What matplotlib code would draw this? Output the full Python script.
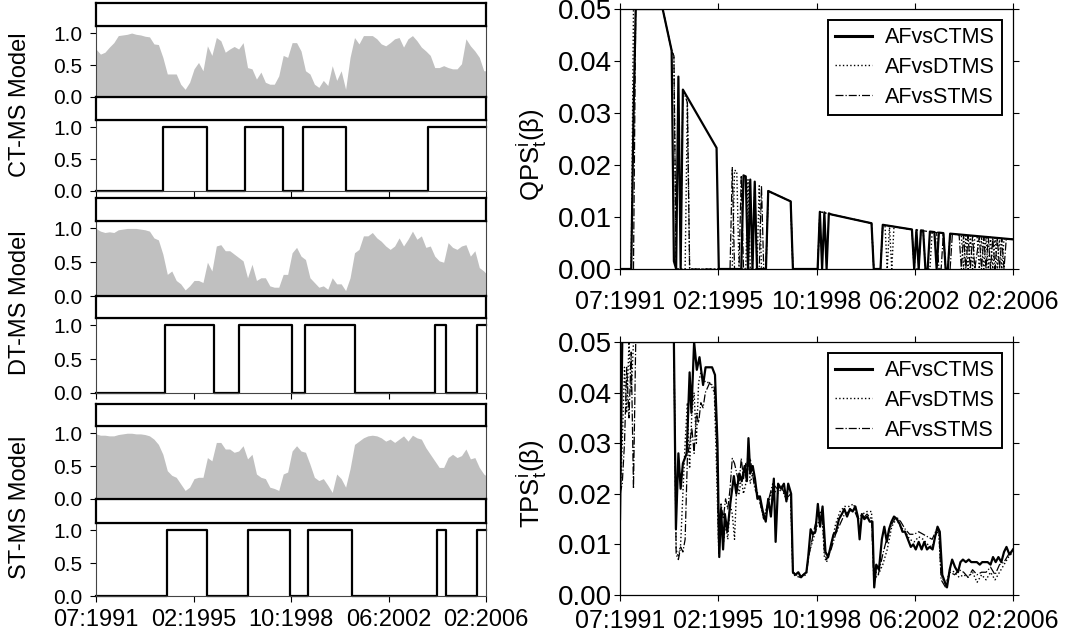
import numpy as np
import matplotlib as mpl
mpl.use('Agg')
import matplotlib.pyplot as plt
from matplotlib.lines import Line2D

######################
## data
######################

# monthly index: 0 = 07:1991 ... 175 = 02:2006
n_months = 176
xtick_pos = [0, 43.75, 87.5, 131.25, 175]
xtick_labels = ['07:1991', '02:1995', '10:1998', '06:2002', '02:2006']

# smoothed recession probabilities, sampled every second month
prob_months = np.arange(0, 177, 2)
prob_ct = [.75, .67, .70, .78, .85, .96, .97, .98, 1.0, .98,
           .97, .95, .94, .83, .82, .62, .36, .36, .36, .20,
           .12, .23, .44, .54, .41, .80, .65, .93, .88, .70,
           .75, .79, .75, .85, .46, .44, .28, .39, .23, .20,
           .20, .33, .65, .62, .85, .85, .72, .41, .36, .20,
           .15, .26, .18, .49, .26, .41, .12, .62, .93, .83,
           .96, .96, .96, .91, .83, .80, .85, .91, .93, .78,
           .91, .96, .88, .78, .72, .65, .46, .46, .49, .46,
           .44, .44, .52, .91, .80, .72, .62, .41, .41]
prob_dt = [1.0, .96, .94, .95, .94, .98, .99, 1.0, 1.0, 1.0,
           .99, .98, .96, .86, .83, .62, .32, .37, .23, .18,
           .09, .15, .23, .23, .20, .50, .37, .74, .76, .67,
           .67, .62, .57, .52, .27, .47, .23, .27, .27, .15,
           .13, .13, .32, .32, .64, .72, .59, .54, .27, .20,
           .13, .15, .10, .27, .18, .18, .08, .27, .64, .69,
           .89, .89, .94, .86, .81, .74, .69, .74, .86, .74,
           .84, .96, .84, .89, .72, .74, .59, .52, .50, .79,
           .72, .69, .74, .76, .59, .67, .42, .37, .30]
prob_st = [.99, .97, .97, .96, .96, .98, .99, 1.0, 1.0, .99,
           .99, .98, .96, .91, .83, .68, .43, .36, .33, .23,
           .13, .18, .31, .33, .33, .63, .58, .86, .86, .76,
           .76, .71, .73, .81, .61, .68, .38, .33, .31, .18,
           .16, .13, .38, .41, .73, .81, .73, .71, .53, .33,
           .28, .31, .21, .10, .38, .31, .18, .46, .83, .88,
           .93, .96, .97, .96, .93, .88, .91, .86, .91, .96,
           .88, .97, .93, .91, .78, .68, .58, .48, .48, .63,
           .68, .63, .66, .76, .61, .63, .48, .38, .33]

# regime-1 periods (start month, end month)
regime_ct = [(30, 50), (67, 84), (93, 112), (149, 176)]
regime_dt = [(31, 53), (64, 88), (94, 116), (152, 157), (171, 176)]
regime_st = [(32, 50), (68, 87), (95, 115), (153, 157), (171, 176)]

model_names = ['CT-MS Model', 'DT-MS Model', 'ST-MS Model']
series_names = ['AFvsCTMS', 'AFvsDTMS', 'AFvsSTMS']

# QPS vertices (month, value)
qps_ct_m = [0, 5, 6, 7, 19, 23, 24, 25, 26, 27, 28, 43, 44, 54, 55, 56, 57, 58, 59, 60, 61, 65, 66, 76, 77,
            88, 89, 90, 91, 92, 93, 94, 112, 113, 116, 117, 130, 131, 132, 133, 134, 135, 136, 137, 138,
            140, 141, 142, 144, 145, 146, 147, 175]
qps_ct_v = [0, 0, .029, .05, .05, .042, .0015, 0, .037, 0, .0345, .0233, 0, 0, .018, .0178, 0, .0172, 0, .0168, 0, 0, .015, .013, 0,
            0, .011, 0, .0109, 0, .0107, .0105, .0088, 0, 0, .0085, .0076, 0, .0075, 0, .0074, .0074, 0, 0, .0072,
            .0071, 0, .007, .0069, 0, 0, .0068, .0057]
qps_dt_m = [0, 5, 6, 19, 23, 24, 25, 29, 30, 31, 50, 51, 52, 53, 56, 57, 58, 61, 62, 63, 65, 66, 76, 77, 88, 89, 112, 113,
            116, 117, 118, 119, 120, 121, 122, 130, 131, 132, 135, 136, 138, 139, 144, 145, 146, 147, 152, 153,
            154, 155, 156, 157, 158, 159, 160, 161, 162, 163, 164, 165, 166, 167, 168, 169, 170, 171, 175]
qps_dt_v = [0, 0, .05, .05, .042, .041, 0, 0, .032, 0, 0, .019, .0188, 0, 0, .0172, 0, 0, .016, 0, 0, .015, .013, 0, 0, .011, .0088, 0,
            0, .0085, .0084, 0, .0083, 0, .0081, .0076, 0, .0075, .0074, 0, 0, .0072, .0069, 0, 0, .0068, .0065, 0,
            .0064, 0, .0064, 0, .0063, .0063, 0, .0062, 0, .0061, 0, .0061, 0, .006, 0, .006, 0, .0058, .0057]
qps_st_m = [0, 6, 7, 19, 23, 24, 25, 27, 28, 30, 31, 49, 50, 51, 53, 54, 55, 59, 60, 61, 62, 63, 64, 65, 66, 76, 77, 88, 89,
            112, 113, 116, 117, 130, 131, 133, 134, 141, 142, 143, 144, 145, 147, 148, 151, 152, 153, 154, 155,
            156, 157, 158, 160, 161, 162, 163, 164, 165, 166, 167, 168, 169, 170, 171, 172, 175]
qps_st_v = [0, 0, .05, .05, .042, .041, 0, 0, .0345, .032, 0, 0, .0195, 0, 0, .018, 0, 0, .0166, 0, 0, .016, 0, 0, .015, .013, 0, 0, .011,
            .0088, 0, 0, .0085, .0076, 0, 0, .0074, .007, 0, 0, .0069, 0, 0, .0067, .0066, 0, .0065, 0, .0064,
            0, .0064, 0, .0062, 0, .0062, 0, .0061, 0, .006, 0, .006, 0, .0059, 0, .0058, .0057]

# TPS vertices (month, value)
tps_ct_m = [0, 1, 24, 24.9, 26, 27, 28, 29.7, 31, 31.8, 33, 34.2, 35.4, 37, 38.1, 41, 42.3, 43.4, 44.2, 45, 45.9,
            46.7, 47.8, 49.1, 50.7, 51.8, 53.1, 54.2, 55.5, 56.5, 57.2, 58, 59.1, 60.1, 61.2, 62.3, 63.6, 64.9,
            66, 67.2, 68.5, 69.3, 70.4, 71.7, 73, 74.1, 74.9, 76.2, 77, 78.1, 79.4, 80.6, 81.7, 83, 83.8, 84.9,
            85.9, 87, 88.1, 89.1, 90.2, 91.5, 92.7, 94, 95.1, 96.2, 97.5, 98.8, 99.9, 101.1, 102.4, 103.6,
            104.8, 105.9, 106.7, 107.7, 108.8, 110.1, 111.2, 112.4, 113.2, 114.1, 115.3, 116.6, 117.7, 118.8,
            119.8, 120.9, 122, 123.3, 124.6, 125.8, 126.9, 128.2, 129.5, 130.6, 131.7, 133, 134.3, 135.5,
            136.7, 137.9, 139.2, 140.3, 141.4, 142.4, 143.5, 144.7, 145.6, 146.8, 147.9, 149.2, 150.5, 151.6,
            152.7, 154, 155.3, 156.4, 157.6, 158.9, 160.2, 161.3, 162.4, 163.7, 165, 166.1, 167.3, 168.5,
            169.8, 171, 172.1, 173.4, 175]
tps_ct_v = [.015, .05, .05, .013, .028, .021, .026, .028, .044, .036, .05, .0445, .047, .0415, .045, .045, .0435, .03,
            .0075, .017, .009, .016, .0125, .018, .0235, .020, .024, .0225, .0255, .0225, .031, .024, .0255, .023,
            .019, .0195, .0165, .0145, .019, .0155, .023, .0105, .022, .021, .022, .0185, .022, .020, .0045, .004,
            .0045, .0035, .004, .0045, .0075, .013, .012, .0125, .018, .0135, .0175, .0085, .0075, .010, .012,
            .0125, .015, .016, .017, .0155, .017, .0165, .0175, .0155, .011, .016, .015, .0155, .0145, .0145,
            .0015, .006, .005, .011, .0135, .0105, .013, .0145, .0155, .015, .014, .0125, .0125, .011, .0095,
            .010, .009, .0105, .009, .0105, .009, .0095, .009, .0115, .0135, .0125, .004, .0025, .0015, .005,
            .007, .0055, .0045, .0065, .007, .0065, .007, .0065, .0065, .0065, .006, .0065, .0065, .0065, .006,
            .0075, .0065, .0075, .0065, .0085, .0095, .008, .009]
tps_dt_m = [0, 1, 2, 3, 4, 5, 6, 7, 24, 25, 26, 27, 28, 29, 30, 31, 32, 33, 34, 35, 36, 38, 40, 42, 43, 44, 45, 46,
            47, 48, 49, 50, 51, 52, 53, 54, 55, 56, 57, 58, 59, 60, 62, 64, 66, 68, 70, 72, 74, 76, 77, 80, 83,
            84, 86, 88, 90, 91, 92, 94, 96, 98, 100, 102, 104, 106, 108, 110, 112, 113, 115, 117, 119, 121,
            123, 125, 127, 129, 131, 133, 135, 137, 139, 141, 142, 143, 145, 147, 149, 151, 153, 155, 157,
            159, 161, 163, 165, 167, 169, 171, 173, 175]
tps_dt_v = [.018, .03, .045, .036, .05, .04, .05, .05, .05, .009, .0075, .01, .02, .03, .038, .025, .036, .04, .03,
            .042, .044, .042, .042, .04, .025, .008, .015, .01, .014, .011, .018, .016, .011, .022, .02, .023,
            .02, .022, .028, .022, .024, .022, .019, .015, .018, .021, .02, .021, .019, .019, .004, .0035, .004,
            .008, .011, .014, .016, .0075, .0065, .0095, .014, .0165, .0175, .0175, .018, .015, .016, .0165,
            .0165, .005, .004, .006, .009, .0135, .015, .0135, .0125, .011, .0105, .0115, .011, .01, .0095,
            .0125, .012, .004, .002, .005, .0045, .0035, .004, .0035, .0045, .0025, .004, .003, .0045, .003,
            .0045, .006, .0075, .0085]
tps_st_m = [0, 1, 2, 3, 4, 5, 6, 7, 24, 25, 26, 27, 28, 29, 30, 31, 32, 33, 34, 35, 36, 37, 38, 40, 42, 43, 44, 45,
            46, 47, 48, 49, 50, 51, 52, 53, 54, 55, 56, 57, 58, 59, 60, 62, 64, 66, 68, 70, 72, 74, 76, 77, 80,
            83, 84, 86, 88, 90, 91, 92, 94, 96, 98, 100, 102, 104, 106, 108, 110, 112, 113, 115, 117, 119, 121,
            123, 125, 127, 129, 131, 133, 135, 137, 139, 141, 142, 143, 145, 147, 149, 151, 153, 155, 157, 159,
            161, 163, 165, 167, 169, 171, 173, 175]
tps_st_v = [.02, .022, .03, .045, .035, .048, .021, .05, .05, .008, .007, .0095, .0085, .011, .027, .03, .033, .028,
            .036, .034, .038, .037, .04, .042, .041, .03, .008, .018, .015, .019, .017, .021, .027, .026, .024,
            .022, .027, .023, .026, .025, .027, .024, .021, .019, .015, .0185, .022, .021, .0215, .019, .02,
            .0045, .0035, .0045, .0075, .012, .016, .0165, .0085, .007, .009, .012, .014, .016, .0165, .017,
            .015, .015, .016, .015, .003, .004, .008, .0115, .014, .0155, .0145, .013, .012, .012, .0125, .012,
            .0115, .011, .013, .0125, .003, .0015, .0045, .004, .005, .0045, .0035, .005, .004, .0045, .0045,
            .0055, .004, .006, .0065, .008, .0085]

######################
## setup matplotlib
######################

plt.rcParams['font.family'] = ['Liberation Sans', 'DejaVu Sans']
plt.rcParams['mathtext.fontset'] = 'custom'
plt.rcParams['mathtext.rm'] = 'Liberation Sans'
plt.rcParams['mathtext.it'] = 'Liberation Sans:italic'

W, H = 1066, 642
fig = plt.figure(figsize=(W / 100, H / 100), dpi=100)


def px_rect(x0, y0, x1, y1):
    return [x0 / W, 1 - y1 / H, (x1 - x0) / W, (y1 - y0) / H]


def empty_box(x0, y0, x1, y1):
    ax = fig.add_axes(px_rect(x0, y0, x1, y1))
    ax.set_xticks([])
    ax.set_yticks([])
    for sp in ax.spines.values():
        sp.set_linewidth(1.6)
        sp.set_color('black')
    ax.set_zorder(3)
    ax.patch.set_alpha(0)
    return ax


def data_panel(x0, y0, x1, y1):
    ax = fig.add_axes(px_rect(x0, y0, x1, y1))
    ax.set_xlim(0, n_months - 1)
    ax.set_ylim(0, 1.11)
    ax.set_yticks([0.0, 0.5, 1.0])
    ax.set_yticklabels(['0.0', '0.5', '1.0'])
    ax.tick_params(axis='y', direction='out', length=4, width=0.8, pad=6, labelsize=15)
    for sp in ax.spines.values():
        sp.set_linewidth(0.8)
        sp.set_color('#444444')
    return ax


######################
## left: probabilities and regimes
######################

left_x0, left_x1 = 96, 486
blocks = [(3, 26, 97, 120, 191), (198, 221, 296, 318, 393), (404, 426, 499, 523, 596)]
probs = [prob_ct, prob_dt, prob_st]
regimes = [regime_ct, regime_dt, regime_st]
months = np.arange(n_months)

for k, (b0, b1, b2, b3, b4) in enumerate(blocks):
    ax_p = data_panel(left_x0, b1, left_x1, b2)
    ax_p.fill_between(prob_months, 0, probs[k], color='#c0c0c0', lw=0)
    ax_p.set_xticks([])

    state = np.zeros(n_months)
    for a, b in regimes[k]:
        state[a:b] = 1
    ax_s = data_panel(left_x0, b3, left_x1, b4)
    ax_s.plot(months, state, drawstyle='steps-post', color='black', lw=1.6, clip_on=False)
    ax_s.set_xticks(xtick_pos)
    ax_s.tick_params(axis='x', direction='out', length=4, width=0.8, pad=5, labelsize=17)
    if k < 2:
        ax_s.set_xticklabels([])
    else:
        ax_s.set_xticklabels(xtick_labels)

    empty_box(left_x0, b0, left_x1, b1)
    empty_box(left_x0, b2, left_x1, b3)

    fig.text(20 / W, 1 - ((b1 + b4) / 2 - 4) / H, model_names[k], rotation=90,
             ha='center', va='center', fontsize=17)

######################
## right: QPS and TPS
######################

styles = [dict(color='black', lw=1.6, ls='-'),
          dict(color='black', lw=1.0, ls=':'),
          dict(color='black', lw=0.9, ls='-.')]


def score_panel(y0, y1, series, ylabel, xpad):
    ax = fig.add_axes(px_rect(620, y0, 1013, y1))
    for (m, v), st, name in zip(series, styles, series_names):
        ax.plot(m, v, label=name, **st)
    ax.set_xlim(0, n_months - 1)
    ax.set_ylim(0, 0.05)
    ax.set_yticks([0, 0.01, 0.02, 0.03, 0.04, 0.05])
    ax.set_yticklabels(['0.00', '0.01', '0.02', '0.03', '0.04', '0.05'])
    ax.set_xticks(xtick_pos)
    ax.set_xticklabels(xtick_labels)
    ax.tick_params(which='both', direction='out', length=4, width=0.8, top=True, right=True)
    ax.tick_params(axis='y', labelsize=20, pad=1.5)
    ax.tick_params(axis='x', labelsize=18, pad=xpad)
    for sp in ax.spines.values():
        sp.set_linewidth(0.9)
    ax.set_ylabel(ylabel, fontsize=18.5)
    ax.yaxis.set_label_coords(-0.18, 0.44)
    handles = [Line2D([], [], **st) for st in styles]
    handles[0].set_linewidth(2.2)
    leg = ax.legend(handles, series_names, loc='upper right', fontsize=15.5, frameon=True,
                    fancybox=False, edgecolor='black', framealpha=1, handlelength=1.7,
                    handletextpad=0.6, labelspacing=0.4, borderpad=0.35, borderaxespad=0.5)
    leg.get_frame().set_linewidth(1.4)
    return ax


score_panel(9, 269, [(qps_ct_m, qps_ct_v), (qps_dt_m, qps_dt_v), (qps_st_m, qps_st_v)],
            r'QPS$^{\mathrm{i}}_{\mathrm{t}}$(β)', 11)
score_panel(342, 595, [(tps_ct_m, tps_ct_v), (tps_dt_m, tps_dt_v), (tps_st_m, tps_st_v)],
            r'TPS$^{\mathrm{i}}_{\mathrm{t}}$(β)', 6)

plt.savefig('out.png', dpi=100)
